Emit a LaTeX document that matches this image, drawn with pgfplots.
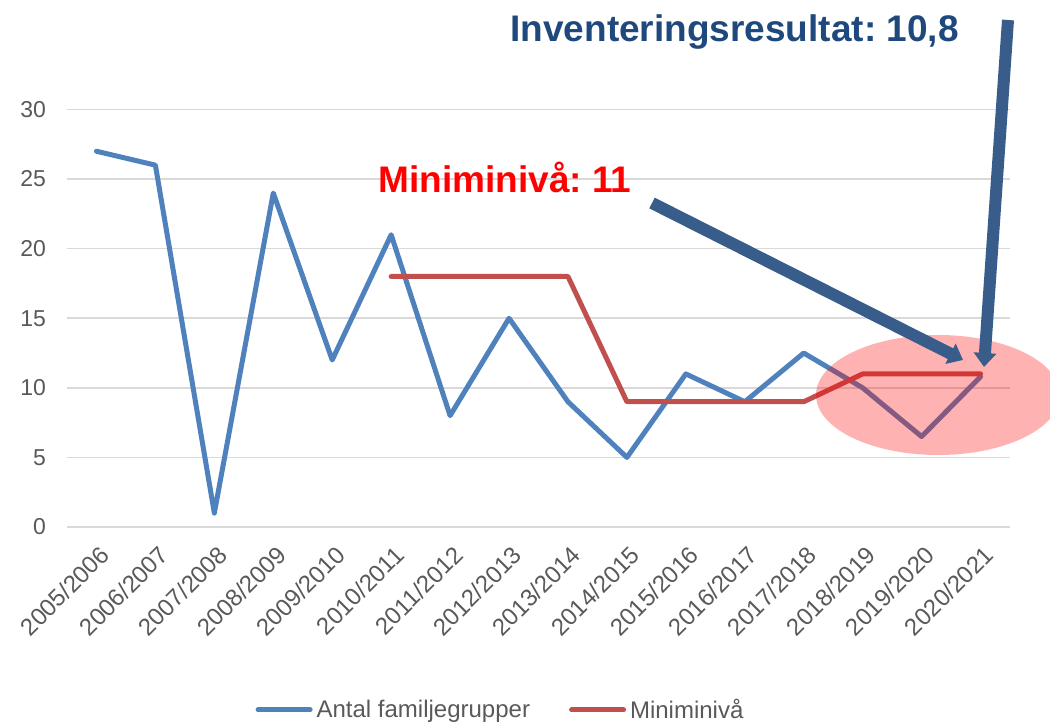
\documentclass[border=0pt]{standalone}
\usepackage{fontspec}
\setmainfont{Liberation Sans}
\usepackage{pgfplots}
\pgfplotsset{compat=1.18}
\usetikzlibrary{arrows.meta}
\definecolor{blu}{HTML}{4F81BD}
\definecolor{rd}{HTML}{C0504D}
\definecolor{txt}{HTML}{595959}
\definecolor{grd}{HTML}{D9D9D9}
\definecolor{arr}{HTML}{385D8A}
\definecolor{ttl}{HTML}{1F497D}
\frenchspacing
\begin{document}
\begin{tikzpicture}
\useasboundingbox (-33.5pt,-97.5pt) rectangle (491.5pt,263.5pt);
\begin{axis}[at={(0,0)}, anchor=south west, scale only axis,
  width=471.5pt, height=208.75pt,
  xmin=-0.5, xmax=15.5, ymin=0, ymax=30,
  ytick={0,5,...,30}, xtick={0,...,15},
  xticklabels={2005/2006,2006/2007,2007/2008,2008/2009,2009/2010,2010/2011,2011/2012,2012/2013,2013/2014,2014/2015,2015/2016,2016/2017,2017/2018,2018/2019,2019/2020,2020/2021},
  axis line style={draw=none}, major tick length=0,
  ymajorgrids, grid style={grd, line width=0.75pt},
  tick label style={font=\fontsize{11.5}{13}\selectfont, text=txt},
  x tick label style={font=\fontsize{12}{14}\selectfont, rotate=45, anchor=north east, xshift=-2pt, yshift=-3.5pt},
  y tick label style={xshift=-7pt},
  /pgf/number format/assume math mode=true,
  clip=false,
  legend columns=2,
  legend style={at={(0.4608,-0.438)}, anchor=center, draw=none, fill=none,
    font=\fontsize{12}{14}\selectfont, text=txt,
    /tikz/every even column/.append style={column sep=17.5pt}},
  legend image code/.code={\draw[#1,line cap=round] (0pt,0pt) -- (26pt,0pt);},
]
\addplot[blu, line width=2.5pt, line join=round, line cap=round] coordinates {
(0,27) (1,26) (2,1) (3,24) (4,12) (5,21) (6,8) (7,15) (8,9) (9,5) (10,11) (11,9) (12,12.5) (13,10) (14,6.5) (15,10.8)};
\addlegendentry{Antal familjegrupper}
\addplot[rd, line width=2.5pt, line join=round, line cap=round] coordinates {
(5,18) (6,18) (7,18) (8,18) (9,9) (10,9) (11,9) (12,9) (13,11) (14,11) (15,11)};
\addlegendentry{Miniminivå}
\end{axis}
\fill[red, opacity=0.3] (435.5pt,66pt) ellipse [x radius=61pt, y radius=30pt];
\draw[arr, line width=6pt, -{Triangle[width=11pt,length=7pt]}] (292.5pt,162pt) -- (448pt,83.5pt);
\draw[arr, line width=6pt, -{Triangle[width=11pt,length=7pt]}] (470.5pt,253.5pt) -- (458.5pt,80pt);
\node[anchor=base west, inner sep=0, font=\fontsize{18.5}{22}\selectfont\bfseries, text=ttl] at (221.5pt,242.5pt) {Inventeringsresultat: 10,8};
\node[anchor=base west, inner sep=0, font=\fontsize{18.5}{22}\selectfont\bfseries, text=red] at (155.5pt,167pt) {Miniminivå: 11};
\end{tikzpicture}
\end{document}
